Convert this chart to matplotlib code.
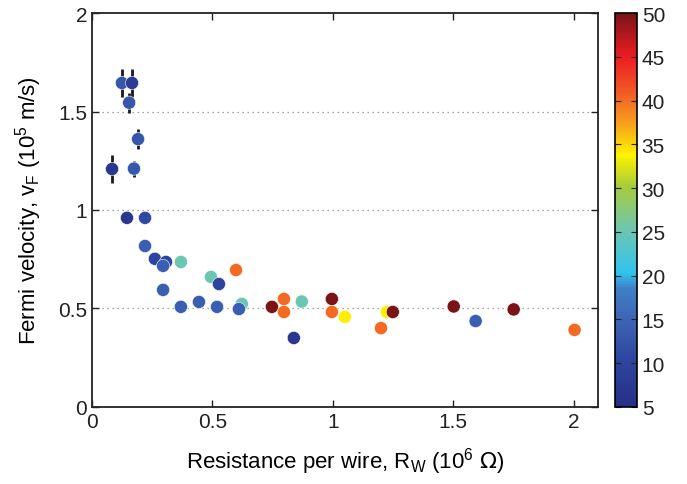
import numpy as np
import matplotlib
matplotlib.use('Agg')
import matplotlib.pyplot as plt
from matplotlib.colors import LinearSegmentedColormap

plt.rcParams['font.family'] = ['Liberation Sans', 'DejaVu Sans']

# resistance per wire (10^6 Ohm), Fermi velocity (10^5 m/s), colour value
r_w = [0.083, 0.124, 0.166, 0.154, 0.191, 0.174,
       0.145, 0.22, 0.22, 0.261, 0.307, 0.295, 0.369, 0.295,
       0.369, 0.444, 0.494, 0.527, 0.598, 0.519, 0.622, 0.61,
       0.747, 0.797, 0.797, 0.871, 0.838, 0.996, 0.996, 1.05,
       1.2, 1.224, 1.249, 1.502, 1.593, 1.751, 2.004]
v_f = [1.208, 1.645, 1.645, 1.545, 1.36, 1.21,
       0.96, 0.96, 0.817, 0.752, 0.736, 0.716, 0.736, 0.594,
       0.508, 0.533, 0.66, 0.624, 0.695, 0.508, 0.523, 0.497,
       0.508, 0.548, 0.482, 0.535, 0.35, 0.548, 0.482, 0.457,
       0.40, 0.482, 0.482, 0.51, 0.436, 0.495, 0.391]
temp = [7, 13, 8, 13, 13, 13,
        7, 11, 14, 10, 10, 14, 25, 14,
        14, 14, 25, 10, 40, 14, 25, 14,
        50, 40, 40, 25, 7, 50, 40, 34,
        40, 34, 50, 50, 14, 50, 40]
# error bars only on the first six points
v_err = [0.07, 0.07, 0.07, 0.05, 0.05, 0.04]

cmap = LinearSegmentedColormap.from_list('muted_jet', [
    (0.00, '#262f86'), (0.12, '#2e46a0'), (0.22, '#3d64b4'),
    (0.30, '#3f80c6'), (0.34, '#2fc4ef'), (0.45, '#6fc6b0'),
    (0.56, '#a6cc3a'), (0.64, '#fff200'), (0.72, '#f8a01c'),
    (0.80, '#f15a24'), (0.89, '#ec1c24'), (1.00, '#7a1416')])

fig = plt.figure(figsize=(6.87, 4.85), dpi=100)
ax = fig.add_axes([0.134, 0.159, 0.736, 0.812])
cax = fig.add_axes([0.895, 0.159, 0.032, 0.812])

ax.errorbar(r_w[:6], v_f[:6], yerr=v_err, fmt='none', ecolor='#1a1a1a',
            elinewidth=2, capsize=0, zorder=2)
sc = ax.scatter(r_w, v_f, c=temp, cmap=cmap, vmin=5, vmax=50, s=90,
                edgecolors='white', linewidths=0.4, zorder=3)

ax.set_xlim(0, 2.1)
ax.set_ylim(0, 2)
ax.set_xticks([0, 0.5, 1, 1.5, 2])
ax.set_xticklabels(['0', '0.5', '1', '1.5', '2'])
ax.set_yticks([0, 0.5, 1, 1.5, 2])
ax.set_yticklabels(['0', '0.5', '1', '1.5', '2'])
for yv in [0.5, 1, 1.5]:
    ax.axhline(yv, color='#888888', lw=0.9, ls=(0, (1, 3)), zorder=1)
ax.tick_params(direction='in', top=True, right=True, length=5,
               width=1, labelsize=15, colors='#222222')
for s in ax.spines.values():
    s.set_linewidth(1.3)
    s.set_color('#222222')
ax.set_xlabel(r'Resistance per wire, R$_\mathregular{W}$ (10$^\mathregular{6}$ $\Omega$)',
              fontsize=16, labelpad=10)
ax.set_ylabel(r'Fermi velocity, v$_\mathregular{F}$ (10$^\mathregular{5}$ m/s)',
              fontsize=16, labelpad=10)

cb = fig.colorbar(sc, cax=cax)
cb.set_ticks(np.arange(5, 55, 5))
cb.ax.tick_params(direction='in', left=True, right=True, length=4,
                  labelsize=15, colors='#222222')
cb.outline.set_linewidth(1.2)

fig.savefig('out.png', dpi=100)
